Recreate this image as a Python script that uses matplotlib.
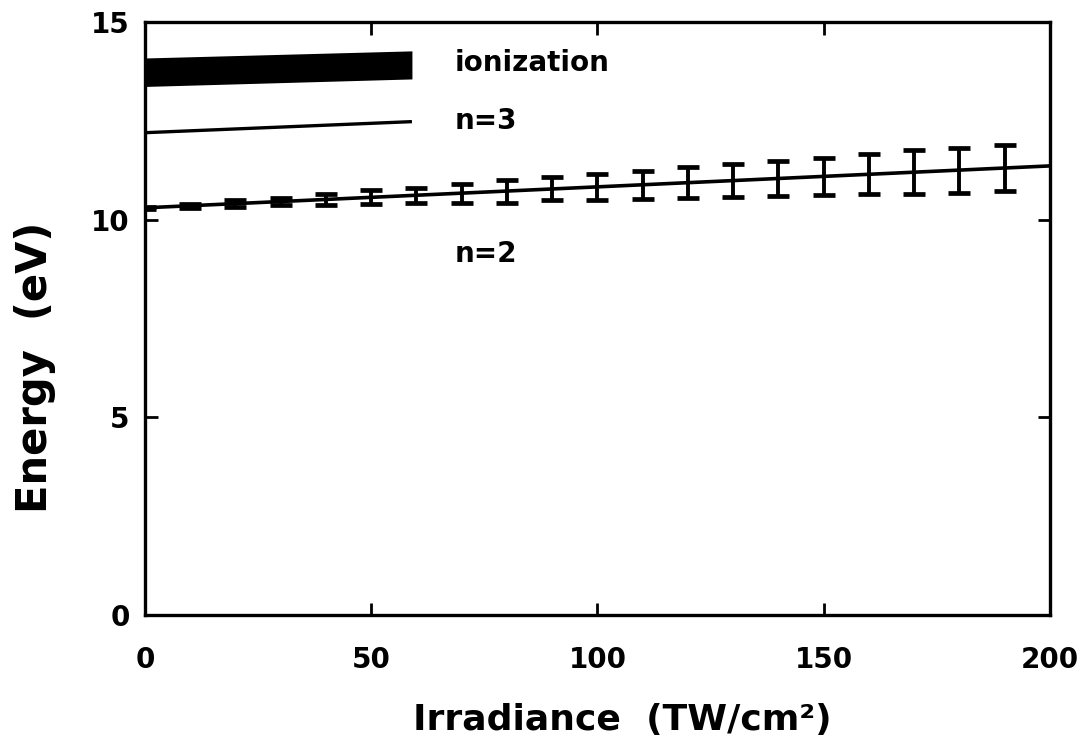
import matplotlib
matplotlib.use("Agg")
import matplotlib.pyplot as plt

# ---- data ----
irradiance_pts = [0, 10, 20, 30, 40, 50, 60, 70, 80, 90,
                  100, 110, 120, 130, 140, 150, 160, 170, 180, 190]
energy_n2_pts = [10.30, 10.35, 10.41, 10.46, 10.51, 10.57, 10.62, 10.67, 10.72, 10.78,
                 10.83, 10.88, 10.94, 10.99, 11.04, 11.10, 11.15, 11.20, 11.25, 11.31]
energy_n2_err = [0.03, 0.05, 0.08, 0.09, 0.14, 0.18, 0.19, 0.24, 0.29, 0.29,
                 0.32, 0.35, 0.40, 0.42, 0.45, 0.47, 0.51, 0.56, 0.57, 0.58]

n2_line_x = [0, 200]
n2_line_y = [10.30, 11.36]

n3_line_x = [0, 59]
n3_line_y = [12.20, 12.48]

ion_x = [0, 59]
ion_lower = [13.37, 13.56]
ion_upper = [14.09, 14.27]

labels = ["ionization", "n=3", "n=2"]
label_x = [68.5, 68.5, 68.5]
label_y = [13.96, 12.49, 9.14]

xticks = [0, 50, 100, 150, 200]
yticks = [0, 5, 10, 15]

# ---- figure ----
fig = plt.figure(figsize=(10.85, 7.46), dpi=100)
ax = fig.add_axes([0.1336, 0.1756, 0.8341, 0.7949])

ax.fill_between(ion_x, ion_lower, ion_upper, color="black", linewidth=0)
ax.plot(n3_line_x, n3_line_y, color="black", linewidth=2.4, solid_capstyle="butt")
ax.plot(n2_line_x, n2_line_y, color="black", linewidth=2.6)
ax.errorbar(irradiance_pts, energy_n2_pts, yerr=energy_n2_err, fmt="none",
            ecolor="black", elinewidth=2.8, capsize=8, capthick=3.4)

for t, x, y in zip(labels, label_x, label_y):
    ax.text(x, y, t, fontsize=20, fontweight="bold", ha="left", va="center",
            family="DejaVu Sans")

ax.set_xlim(0, 200)
ax.set_ylim(0, 15)
ax.set_xticks(xticks)
ax.set_yticks(yticks)
ax.set_xticklabels([str(v) for v in xticks], fontsize=20, fontweight="bold")
ax.set_yticklabels([str(v) for v in yticks], fontsize=20, fontweight="bold")
ax.tick_params(axis="both", direction="in", length=9, width=2,
               top=True, right=True)
ax.tick_params(axis="x", pad=22)
ax.tick_params(axis="y", pad=11)
for s in ax.spines.values():
    s.set_linewidth(2.4)

ax.set_xlabel("Irradiance  (TW/cm²)", fontsize=26, fontweight="bold")
ax.xaxis.label.set_va("center")
ax.xaxis.set_label_coords(0.528, -0.177)
ax.set_ylabel("Energy  (eV)", fontsize=30, fontweight="bold")
ax.yaxis.label.set_va("center")
ax.yaxis.set_label_coords(-0.122, 0.417)

fig.savefig("out.png", dpi=100)
